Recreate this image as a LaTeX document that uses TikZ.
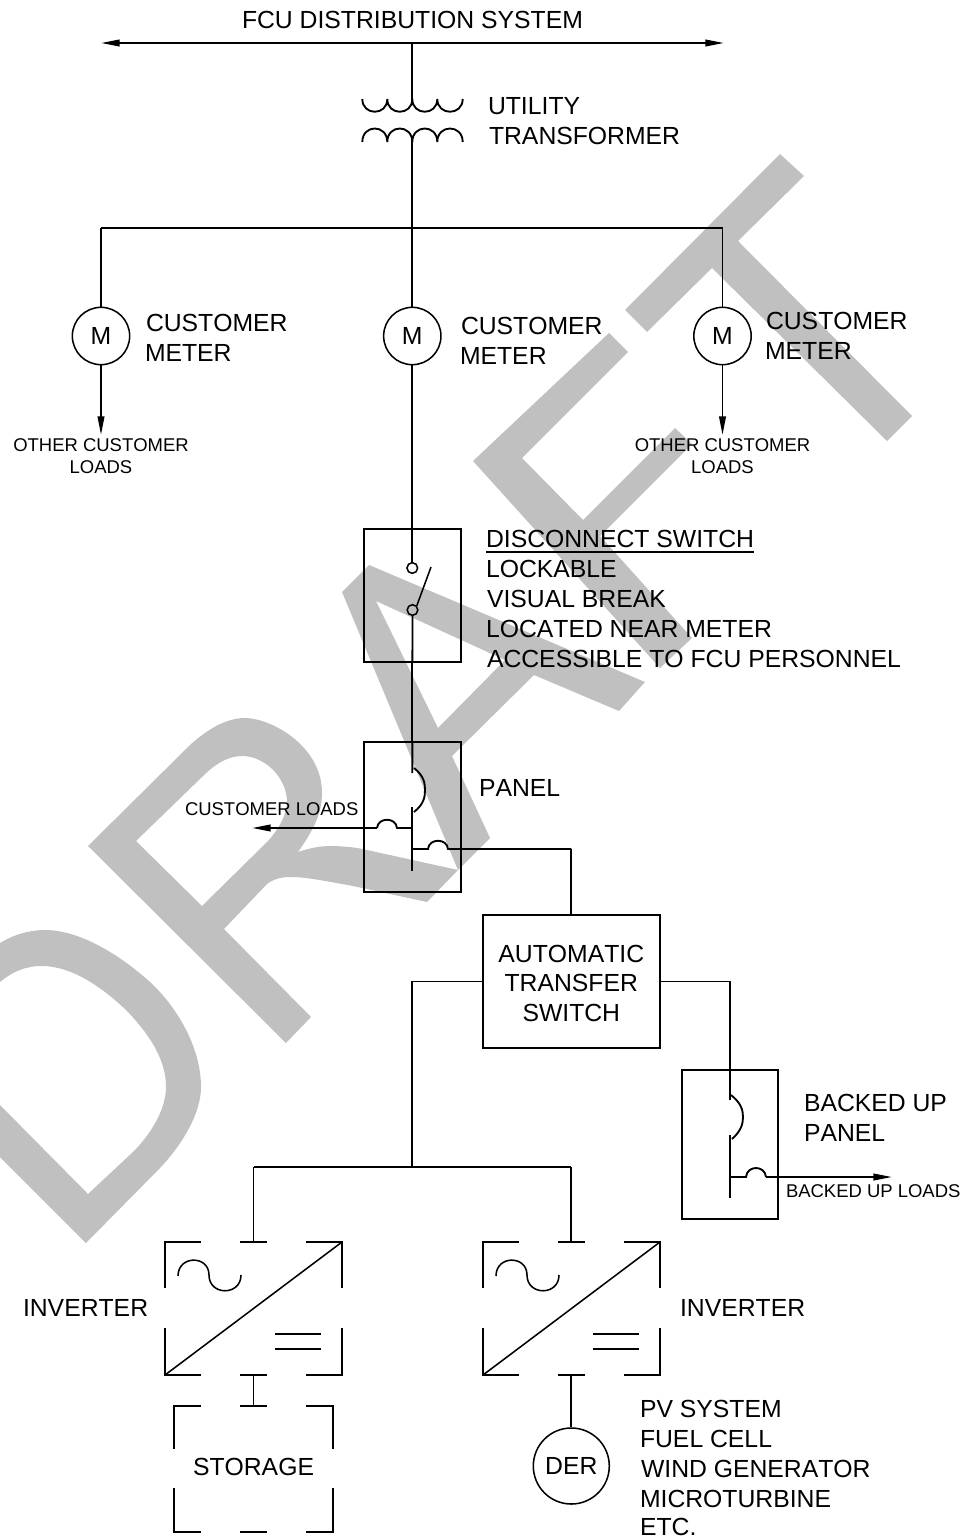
\documentclass[tikz,border=0pt]{standalone}
\usepackage{fontspec}
\setmainfont{Liberation Sans}[Kerning=Off]
\usetikzlibrary{arrows.meta}
\definecolor{wmgray}{HTML}{C0C0C0}
\tikzset{
  wire/.style={line width=1.4pt,black},
  thinwire/.style={line width=1.15pt,black},
  arrowwire/.style={wire,-{Triangle[length=14pt,width=5pt]}},
  twotip/.style={wire,{Triangle[length=14pt,width=5pt]}-{Triangle[length=14pt,width=5pt]}},
  wmark/.style={fill=wmgray,draw=none},
  lbl/.style={anchor=base west,inner sep=0pt,outer sep=0pt,font=\fontsize{18.56}{22}\selectfont},
  lblc/.style={anchor=base,inner sep=0pt,outer sep=0pt,font=\fontsize{18.56}{22}\selectfont},
  sml/.style={anchor=base west,inner sep=0pt,outer sep=0pt,font=\fontsize{13.85}{16}\selectfont},
  smlc/.style={anchor=base,inner sep=0pt,outer sep=0pt,font=\fontsize{13.85}{16}\selectfont},
  meter/.style={draw,circle,line width=1.15pt,minimum size=43pt,inner sep=0pt,font=\fontsize{18.56}{22}\selectfont},
  dernode/.style={draw,circle,line width=1.15pt,minimum size=57pt,inner sep=0pt,font=\fontsize{18.56}{22}\selectfont},
  contact/.style={draw,circle,line width=1.15pt,minimum size=8pt,inner sep=0pt,fill=none},
  boxnode/.style={draw,rectangle,line width=1.4pt,inner sep=0pt},
}
\begin{document}
\begin{tikzpicture}[x=0.75pt,y=-0.75pt]
\useasboundingbox (0,0) rectangle (965,1537);
% watermark
\fill[wmark] (0,943) .. controls (15,934) and (30,930) .. (45,930) .. controls (80,930) and (120,955) .. (150,982) .. controls (180,1010) and (201,1050) .. (201,1087) .. controls (201,1115) and (180,1147) .. (160,1168) -- (86,1243) -- (0,1157) -- (0,1105) -- (88,1194) -- (133,1152) .. controls (150,1135) and (166,1110) .. (166,1087) .. controls (166,1060) and (150,1035) .. (127,1011) .. controls (100,985) and (70,966) .. (42,966) .. controls (25,966) and (12,972) .. (0,982) -- cycle;
\fill[wmark,even odd rule] (88,846) -- (190,745) .. controls (210,727) and (228,718) .. (245,718) .. controls (270,718) and (322,745) .. (322,793) .. controls (322,812) and (315,828) .. (298,852) .. controls (310,848) and (320,846) .. (330,846) .. controls (345,846) and (360,848) .. (367,850) -- (458,870) -- (427,902) -- (353,886) .. controls (320,880) and (305,877) .. (290,877) .. controls (280,877) and (272,880) .. (267,884) -- (224,929) -- (311,1017) -- (286,1043) -- cycle
 (136,841) -- (202,777) .. controls (215,764) and (228,756) .. (242,756) .. controls (265,756) and (287,778) .. (287,802) .. controls (287,815) and (278,830) .. (268,841) -- (202,906) -- cycle;
\fill[wmark,even odd rule] (369,565) -- (645,682) -- (619,711) -- (534,675) -- (452,756) -- (490,838) -- (458,870) -- (342,592) -- cycle
 (376,601) -- (505,660) -- (438,728) -- cycle;
\fill[wmark] (609,333) -- (628,352) -- (522,458) -- (583,520) -- (675,428) -- (692,444) -- (600,536) -- (692,638) -- (660,668) -- (473,461) -- cycle;
\fill[wmark] (780,154) -- (804,176) -- (738,241) -- (912,416) -- (887,441) -- (712,268) -- (647,332) -- (625,310) -- cycle;

% coordinates
\coordinate (topL) at (101,43);
\coordinate (topR) at (724,43);
\coordinate (topM) at (412.3,43);
\coordinate (coilTop) at (412.3,103);
\coordinate (coilBot) at (412.3,136);
\coordinate (busL) at (101,228);
\coordinate (busM) at (412.3,228);
\coordinate (busR) at (722.5,228);
\coordinate (loadL) at (101,435);
\coordinate (loadR) at (722.5,435);

% top
\node[lbl] (fcu) at (242,29) {FCU DISTRIBUTION SYSTEM};
\draw[twotip] (topL) -- (topR);
\draw[wire] (topM) -- (coilTop);
% transformer
\draw[wire] (362.3,99) .. controls (362.3,116) and (387.3,116) .. (387.3,99)
  .. controls (387.3,116) and (412.3,116) .. (412.3,99)
  .. controls (412.3,116) and (437.3,116) .. (437.3,99)
  .. controls (437.3,116) and (462.7,116) .. (462.7,99);
\draw[wire] (362.3,142) .. controls (362.3,124) and (387.3,124) .. (387.3,142)
  .. controls (387.3,124) and (412.3,124) .. (412.3,142)
  .. controls (412.3,124) and (437.3,124) .. (437.3,142)
  .. controls (437.3,124) and (462.7,124) .. (462.7,142);
\draw[wire] (coilBot) -- (busM);
\node[lbl] (ut1) at (488,115) {UTILITY};
\node[lbl] (ut2) at (489,145) {TRANSFORMER};
% bus and meters
\draw[wire] (busL) -- (busR);
\node[meter] (m1) at (101,336) {M};
\node[meter] (m2) at (412.3,336) {M};
\node[meter] (m3) at (722.5,336) {M};
\draw[wire] (busL) -- (m1.north);
\draw[wire] (busM) -- (m2.north);
\draw[wire] (busR) -- (m3.north);
\draw[arrowwire] (m1.south) -- (loadL);
\draw[arrowwire] (m3.south) -- (loadR);
\node[lbl] (c1a) at (146,331) {CUSTOMER};
\node[lbl] (c1b) at (145,361) {METER};
\node[lbl] (c2a) at (461,334) {CUSTOMER};
\node[lbl] (c2b) at (460,364) {METER};
\node[lbl] (c3a) at (766,329) {CUSTOMER};
\node[lbl] (c3b) at (765,359) {METER};
\node[smlc] (o1a) at (101,451) {OTHER CUSTOMER};
\node[smlc] (o1b) at (101,473) {LOADS};
\node[smlc] (o3a) at (722.5,451) {OTHER CUSTOMER};
\node[smlc] (o3b) at (722.5,473) {LOADS};
% disconnect switch
\node[boxnode,minimum width=72.5pt,minimum height=99.5pt] (sw) at (412.4,595.5) {};
\node[contact] (ca) at (412.3,568) {};
\node[contact] (cb) at (412.5,610) {};
\coordinate (blade) at (431,567);
\draw[wire] (m2.south) -- (ca.north);
\draw[thinwire] (cb.north east) -- (blade);
\draw[wire] (cb.south) -- (sw.south);
\node[lbl] (d1) at (486,547) {DISCONNECT SWITCH};
\coordinate (ulA) at (486,552);
\coordinate (ulB) at (754,552);
\draw[thinwire] (ulA) -- (ulB);
\node[lbl] (d2) at (486,577) {LOCKABLE};
\node[lbl] (d3) at (487,607) {VISUAL BREAK};
\node[lbl] (d4) at (486,637) {LOCATED NEAR METER};
\node[lbl] (d5) at (487,667) {ACCESSIBLE TO FCU PERSONNEL};
% panel
\node[boxnode,minimum width=72.5pt,minimum height=112.5pt] (panel) at (412.4,817) {};
\coordinate (pA) at (412.3,773);
\coordinate (pB) at (412.3,807);
\coordinate (pC) at (412.3,871);
\coordinate (pL) at (412.3,828);
\coordinate (pR) at (412.3,849);
\coordinate (custTip) at (252,828);
\coordinate (atsIn) at (571.3,849);
\draw[wire] (sw.south) -- (panel.north);
\draw[wire] (panel.north) -- (pA);
\draw[wire] (414,768) .. controls (424,776) and (425,783) .. (425,790) .. controls (425,797) and (424,804) .. (414,812);
\draw[wire] (pB) -- (pC);
\draw[wire] (pL) -- (397,828) .. controls (396,817) and (378,817) .. (377,828);
\draw[arrowwire] (377,828) -- (custTip);
\draw[wire] (pR) -- (428,849) .. controls (429,838) and (447,838) .. (448,849) -- (atsIn);
\node[lbl] (pan) at (479,796) {PANEL};
\node[sml] (cl) at (185,815) {CUSTOMER LOADS};
% ATS
\node[boxnode,minimum width=133pt,minimum height=99.75pt] (ats) at (571.3,981.5) {};
\node[lblc] (a1) at (571.3,962) {AUTOMATIC};
\node[lblc] (a2) at (571.3,991) {TRANSFER};
\node[lblc] (a3) at (571.3,1021) {SWITCH};
\draw[wire] (atsIn) -- (ats.north);
\coordinate (atsL) at (412.3,981.5);
\coordinate (atsR) at (730,981.5);
\coordinate (bus2M) at (412.3,1167);
\coordinate (bus2L) at (253.5,1167);
\coordinate (bus2R) at (571.3,1167);
\draw[wire] (ats.west) -- (atsL) -- (bus2M);
\draw[wire] (bus2L) -- (bus2R);
% backed up panel
\node[boxnode,minimum width=72pt,minimum height=111.75pt] (bp) at (730,1144.5) {};
\coordinate (bA) at (730,1100);
\coordinate (bB) at (730,1135);
\coordinate (bC) at (730,1198);
\coordinate (bL) at (730,1177);
\coordinate (bTip) at (892,1177);
\draw[wire] (ats.east) -- (atsR) -- (bA);
\draw[wire] (731,1095) .. controls (741,1103) and (743,1110) .. (743,1117) .. controls (743,1124) and (741,1131) .. (732,1139);
\draw[wire] (bB) -- (bC);
\draw[wire] (bL) -- (746,1177) .. controls (747,1165) and (765,1165) .. (766,1177);
\draw[arrowwire] (766,1177) -- (bTip);
\node[lbl] (b1) at (804,1111) {BACKED UP};
\node[lbl] (b2) at (804,1141) {PANEL};
\node[sml] (b3) at (786,1197) {BACKED UP LOADS};
% inverter 1
\coordinate (i1t) at (253.5,1242);
\coordinate (i1b) at (253.5,1375);
\coordinate (st) at (253.5,1406);
\draw[wire] (bus2L) -- (i1t);
\draw[wire] (201,1242) -- (165,1242) -- (165,1288);
\draw[wire] (240,1242) -- (267,1242);
\draw[wire] (306,1242) -- (342,1242) -- (342,1288);
\draw[wire] (165,1328) -- (165,1375) -- (201,1375);
\draw[wire] (240,1375) -- (267,1375);
\draw[wire] (306,1375) -- (342,1375) -- (342,1328);
\draw[thinwire] (165,1375) -- (342,1242);
\draw[thinwire] (178,1276) .. controls (178,1255) and (209,1255) .. (209,1275) .. controls (209,1296) and (241,1296) .. (241,1275);
\draw[thinwire] (275,1334) -- (321,1334);
\draw[wire] (275,1349) -- (321,1349);
\node[lbl] (i1l) at (23,1316) {INVERTER};
\draw[wire] (i1b) -- (st);
% storage
\draw[wire] (201,1406) -- (174,1406) -- (174,1449);
\draw[wire] (240,1406) -- (267,1406);
\draw[wire] (306,1406) -- (333,1406) -- (333,1449);
\draw[wire] (174,1488) -- (174,1532) -- (201,1532);
\draw[wire] (240,1532) -- (267,1532);
\draw[wire] (306,1532) -- (333,1532) -- (333,1488);
\node[lblc] (stor) at (253.5,1475) {STORAGE};
% inverter 2
\coordinate (i2t) at (571.3,1242);
\coordinate (i2b) at (571.3,1375);
\draw[wire] (bus2R) -- (i2t);
\draw[wire] (519,1242) -- (483,1242) -- (483,1288);
\draw[wire] (558,1242) -- (585,1242);
\draw[wire] (624,1242) -- (660,1242) -- (660,1288);
\draw[wire] (483,1328) -- (483,1375) -- (519,1375);
\draw[wire] (558,1375) -- (585,1375);
\draw[wire] (624,1375) -- (660,1375) -- (660,1328);
\draw[thinwire] (483,1375) -- (660,1242);
\draw[thinwire] (496,1276) .. controls (496,1255) and (527,1255) .. (527,1275) .. controls (527,1296) and (559,1296) .. (559,1275);
\draw[thinwire] (592.5,1334) -- (639,1334);
\draw[wire] (592.5,1349) -- (639,1349);
\node[lbl] (i2l) at (680,1316) {INVERTER};
% DER
\node[dernode] (der) at (571.3,1466) {DER};
\draw[wire] (i2b) -- (der.north);
\node[lbl] (p1) at (640,1417) {PV SYSTEM};
\node[lbl] (p2) at (640,1447) {FUEL CELL};
\node[lbl] (p3) at (641,1477) {WIND GENERATOR};
\node[lbl] (p4) at (640,1507) {MICROTURBINE};
\node[lbl] (p5) at (640,1535) {ETC.};
\end{tikzpicture}
\end{document}
